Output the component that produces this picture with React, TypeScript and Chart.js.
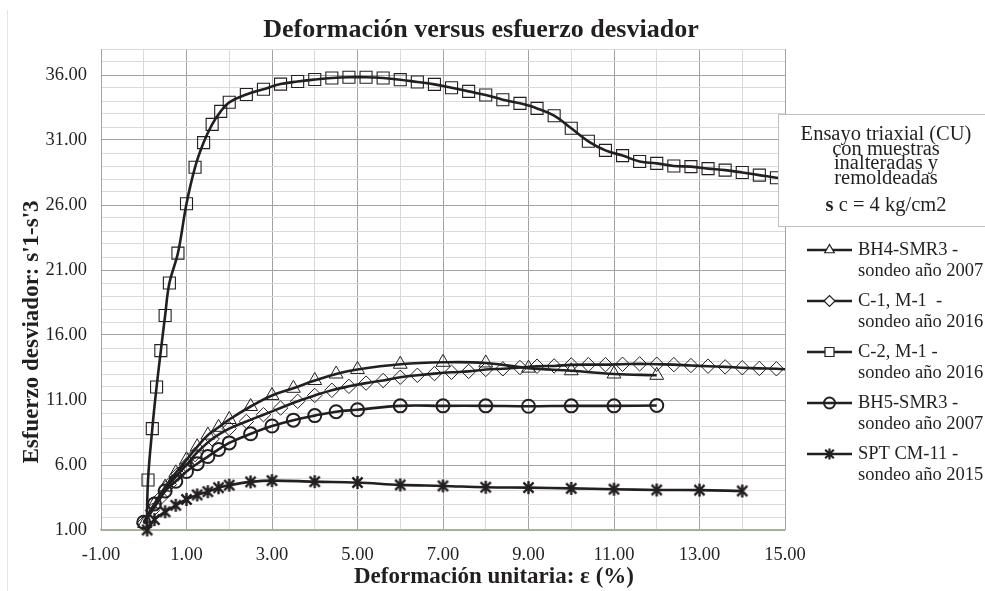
import React, { useEffect, useRef } from 'react';
import { Chart, registerables } from 'chart.js';

Chart.register(...registerables);

// ---------- data ----------
const chartTitle = 'Deformación versus esfuerzo desviador';
const xAxisTitle = 'Deformación unitaria: ε (%)';
const yAxisTitle = "Esfuerzo desviador: s'1-s'3";
const boxLines = ['Ensayo triaxial (CU)', 'con muestras', 'inalteradas y', 'remoldeadas'];
const boxSigma = 's';
const boxLast = ' c = 4 kg/cm2';

const xMin = -1;
const xMax = 15;
const yMin = 1;
const yMax = 38;

const seriesNames = [
  ['BH4-SMR3 -', 'sondeo año 2007'],
  ['C-1, M-1  -', 'sondeo año 2016'],
  ['C-2, M-1 -', 'sondeo año 2016'],
  ['BH5-SMR3 -', 'sondeo año 2007'],
  ['SPT CM-11 -', 'sondeo año 2015'],
];

const bh4X = [0.02, 0.25, 0.5, 0.75, 1.0, 1.25, 1.5, 1.75, 2.0, 2.5, 3.0, 3.5, 4.0, 4.5, 5.0, 6.0, 7.0, 8.0, 9.0, 10.0, 11.0, 12.0];
const bh4Y = [1.5, 3.0, 4.3, 5.4, 6.4, 7.4, 8.3, 8.9, 9.5, 10.5, 11.35, 11.9, 12.5, 13.0, 13.35, 13.75, 13.9, 13.85, 13.45, 13.25, 13.0, 12.9];

const c1X = [0.0, 0.2, 0.4, 0.6, 0.8, 1.0, 1.2, 1.6, 2.0, 2.4, 2.8, 3.2, 3.6, 4.0, 4.4, 4.8, 5.2, 5.6, 6.0, 6.4, 6.8, 7.2, 7.6, 8.0, 8.4, 8.8, 9.2, 9.6, 10.0, 10.4, 10.8, 11.2, 11.6, 12.0, 12.4, 12.8, 13.2, 13.6, 14.0, 14.4, 14.8, 15.2];
const c1Y = [1.5, 2.5, 3.5, 4.5, 5.3, 6.0, 6.8, 8.0, 8.8, 9.35, 9.87, 10.38, 10.9, 11.35, 11.75, 12.05, 12.3, 12.5, 12.75, 12.9, 13.03, 13.13, 13.2, 13.35, 13.4, 13.5, 13.6, 13.62, 13.7, 13.72, 13.72, 13.75, 13.78, 13.75, 13.72, 13.65, 13.6, 13.55, 13.48, 13.43, 13.4, 13.33];

const c2X = [0.07, 0.1, 0.2, 0.3, 0.4, 0.5, 0.6, 0.8, 1.0, 1.2, 1.4, 1.6, 1.8, 2.0, 2.4, 2.8, 3.2, 3.6, 4.0, 4.4, 4.8, 5.2, 5.6, 6.0, 6.4, 6.8, 7.2, 7.6, 8.0, 8.4, 8.8, 9.2, 9.6, 10.0, 10.4, 10.8, 11.2, 11.6, 12.0, 12.4, 12.8, 13.2, 13.6, 14.0, 14.4, 14.8, 15.2];
const c2Y = [1.0, 4.85, 8.8, 12.0, 14.8, 17.5, 20.0, 22.3, 26.1, 28.9, 30.8, 32.2, 33.2, 33.9, 34.5, 34.9, 35.3, 35.5, 35.65, 35.77, 35.83, 35.83, 35.77, 35.64, 35.46, 35.28, 35.02, 34.74, 34.46, 34.1, 33.82, 33.43, 32.87, 31.9, 30.9, 30.2, 29.8, 29.35, 29.2, 29.0, 28.95, 28.8, 28.68, 28.5, 28.3, 28.1, 27.95];

const bh5X = [0.0, 0.25, 0.5, 0.75, 1.0, 1.25, 1.5, 1.75, 2.0, 2.5, 3.0, 3.5, 4.0, 4.5, 5.0, 6.0, 7.0, 8.0, 9.0, 10.0, 11.0, 12.0];
const bh5Y = [1.6, 3.0, 4.0, 4.75, 5.5, 6.1, 6.65, 7.2, 7.7, 8.4, 9.0, 9.45, 9.8, 10.1, 10.25, 10.55, 10.55, 10.55, 10.52, 10.55, 10.55, 10.58];

const sptX = [0.08, 0.25, 0.5, 0.75, 1.0, 1.25, 1.5, 1.75, 2.0, 2.5, 3.0, 4.0, 5.0, 6.0, 7.0, 8.0, 9.0, 10.0, 11.0, 12.0, 13.0, 14.0];
const sptY = [1.0, 1.8, 2.4, 2.9, 3.35, 3.7, 3.95, 4.25, 4.45, 4.7, 4.8, 4.72, 4.65, 4.47, 4.39, 4.29, 4.26, 4.2, 4.14, 4.08, 4.07, 4.0];

// ---------- style ----------
const FONT = "'Liberation Serif', 'Times New Roman', serif";
const TEXT = '#231f20';
const LINE = '#231f20';
const MAJOR = '#a3a3a3';
const MINOR = '#dadada';
const GREEN = '#92d050';

const toPts = (xs: number[], ys: number[]) => xs.map((x, i) => ({ x, y: ys[i] }));

function makeStar(size: number, lw: number) {
  const c = document.createElement('canvas');
  c.width = size;
  c.height = size;
  const g = c.getContext('2d')!;
  g.strokeStyle = LINE;
  g.lineWidth = lw;
  const m = size / 2;
  const r = size / 2 - 1;
  const d = r * 0.78;
  g.beginPath();
  g.moveTo(m, m - r);
  g.lineTo(m, m + r);
  g.moveTo(m - d, m - d);
  g.lineTo(m + d, m + d);
  g.moveTo(m + d, m - d);
  g.lineTo(m - d, m + d);
  g.stroke();
  return c;
}

function drawMarker(ctx: CanvasRenderingContext2D, style: string, x: number, y: number, r: number) {
  ctx.save();
  ctx.strokeStyle = LINE;
  ctx.fillStyle = '#ffffff';
  ctx.lineWidth = 1.2;
  ctx.beginPath();
  if (style === 'triangle') {
    ctx.moveTo(x, y - r);
    ctx.lineTo(x + r * 0.866, y + r / 2);
    ctx.lineTo(x - r * 0.866, y + r / 2);
    ctx.closePath();
    ctx.fill();
    ctx.stroke();
  } else if (style === 'diamond') {
    ctx.moveTo(x - r, y);
    ctx.lineTo(x, y - r);
    ctx.lineTo(x + r, y);
    ctx.lineTo(x, y + r);
    ctx.closePath();
    ctx.fill();
    ctx.stroke();
  } else if (style === 'square') {
    ctx.rect(x - r, y - r, 2 * r, 2 * r);
    ctx.fill();
    ctx.stroke();
  } else if (style === 'circle') {
    ctx.lineWidth = 2;
    ctx.arc(x, y, r, 0, Math.PI * 2);
    ctx.stroke();
  } else if (style === 'star') {
    ctx.lineWidth = 2.2;
    const d = r * 0.78;
    ctx.moveTo(x, y - r);
    ctx.lineTo(x, y + r);
    ctx.moveTo(x - d, y - d);
    ctx.lineTo(x + d, y + d);
    ctx.moveTo(x + d, y - d);
    ctx.lineTo(x - d, y + d);
    ctx.stroke();
  }
  ctx.restore();
}

const legendStyles = ['triangle', 'diamond', 'square', 'circle', 'star'];

const overlayPlugin = {
  id: 'overlay',
  afterDraw(chart: any) {
    const ctx: CanvasRenderingContext2D = chart.ctx;
    ctx.save();
    // faint frame line at the left
    ctx.strokeStyle = '#dce6f2';
    ctx.lineWidth = 1;
    ctx.beginPath();
    ctx.moveTo(7.5, 10);
    ctx.lineTo(7.5, 591);
    ctx.stroke();

    ctx.fillStyle = TEXT;
    ctx.textAlign = 'center';
    ctx.textBaseline = 'middle';
    // title
    ctx.font = `bold 26px ${FONT}`;
    ctx.fillText(chartTitle, 481, 30);
    // axis titles
    ctx.font = `bold 23px ${FONT}`;
    ctx.fillText(xAxisTitle, 494, 577);
    ctx.save();
    ctx.translate(32, 332);
    ctx.rotate(-Math.PI / 2);
    ctx.fillText(yAxisTitle, 0, 0);
    ctx.restore();

    // text box
    ctx.fillStyle = '#ffffff';
    ctx.strokeStyle = '#bfbfbf';
    ctx.lineWidth = 1;
    ctx.fillRect(778, 114, 215, 113);
    ctx.strokeRect(778.5, 114.5, 215, 112);
    ctx.fillStyle = TEXT;
    ctx.font = `20.5px ${FONT}`;
    const boxYs = [135, 150, 164, 179];
    boxLines.forEach((t, i) => ctx.fillText(t, 886, boxYs[i]));
    ctx.font = `bold 20.5px ${FONT}`;
    const wS = ctx.measureText(boxSigma).width;
    ctx.font = `20.5px ${FONT}`;
    const wR = ctx.measureText(boxLast).width;
    const startX = 886 - (wS + wR) / 2;
    ctx.textAlign = 'left';
    ctx.font = `bold 20.5px ${FONT}`;
    ctx.fillText(boxSigma, startX, 206);
    ctx.font = `20.5px ${FONT}`;
    ctx.fillText(boxLast, startX + wS, 206);

    // legend
    ctx.font = `18.5px ${FONT}`;
    ctx.textAlign = 'left';
    seriesNames.forEach((lines, i) => {
      const y = 250 + 51 * i;
      ctx.strokeStyle = LINE;
      ctx.lineWidth = 2.5;
      ctx.beginPath();
      ctx.moveTo(807, y);
      ctx.lineTo(852, y);
      ctx.stroke();
      drawMarker(ctx, legendStyles[i], 829.5, y, legendStyles[i] === 'square' ? 4.5 : 5.5);
      ctx.fillStyle = TEXT;
      ctx.fillText(lines[0], 858, y);
      ctx.fillText(lines[1], 858, y + 21);
    });
    ctx.restore();
  },
};

export default function App() {
  const ref = useRef<HTMLCanvasElement>(null);

  useEffect(() => {
    const canvas = ref.current;
    if (!canvas) return;
    const star = makeStar(15, 2.4);
    const edgeR = (r: number) => (c: any) => (c.raw && c.raw.x > xMax ? 0 : r);

    const common = {
      showLine: true,
      borderColor: LINE,
      borderWidth: 2.6,
      tension: 0.4,
      backgroundColor: 'rgba(0,0,0,0)',
      pointBorderColor: LINE,
      pointBackgroundColor: 'rgba(0,0,0,0)',
      clip: { left: 0, right: 0, top: 0, bottom: 12 },
    };

    const chart = new Chart(canvas, {
      type: 'scatter',
      data: {
        datasets: [
          {
            ...common,
            label: seriesNames[0].join(' '),
            data: toPts(bh4X, bh4Y),
            pointStyle: 'triangle',
            pointRadius: 8,
            pointBorderWidth: 1,
          },
          {
            ...common,
            label: seriesNames[1].join(' '),
            data: toPts(c1X, c1Y),
            pointStyle: 'rectRot',
            pointRadius: edgeR(7.2),
            pointBorderWidth: 1,
          },
          {
            ...common,
            label: seriesNames[2].join(' '),
            data: toPts(c2X, c2Y),
            pointStyle: 'rect',
            pointRadius: (c: any) => (c.dataIndex === 0 || (c.raw && c.raw.x > xMax) ? 0 : 8.5),
            pointBorderWidth: 1.1,
          },
          {
            ...common,
            label: seriesNames[3].join(' '),
            data: toPts(bh5X, bh5Y),
            pointStyle: 'circle',
            pointRadius: 6.5,
            pointBorderWidth: 2,
          },
          {
            ...common,
            label: seriesNames[4].join(' '),
            data: toPts(sptX, sptY),
            pointStyle: star,
            pointRadius: 7,
            pointBorderWidth: 1,
          },
        ],
      },
      options: {
        animation: false,
        responsive: false,
        devicePixelRatio: 1,
        events: [],
        layout: { padding: { left: 0, right: 200, top: 49, bottom: 0 } },
        plugins: {
          legend: { display: false },
          title: { display: false },
          tooltip: { enabled: false },
        },
        scales: {
          x: {
            type: 'linear',
            min: xMin,
            max: xMax,
            afterFit: (s: any) => {
              s.height = 61;
            },
            border: { color: GREEN, width: 1.2 },
            grid: {
              drawTicks: false,
              color: (c: any) => (c.tick && Math.abs((c.tick.value + 1) % 2) < 1e-9 ? MAJOR : MINOR),
              lineWidth: 1,
            },
            ticks: {
              stepSize: 1,
              autoSkip: false,
              maxRotation: 0,
              padding: 14,
              color: TEXT,
              font: { family: FONT, size: 18.5 },
              callback: (v: any) => (Math.abs((Number(v) + 1) % 2) < 1e-9 ? Number(v).toFixed(2) : ''),
            },
          },
          y: {
            type: 'linear',
            min: yMin,
            max: yMax,
            afterFit: (s: any) => {
              s.width = 101;
            },
            border: { color: MAJOR, width: 1 },
            grid: {
              drawTicks: false,
              color: (c: any) => (c.tick && Math.abs((c.tick.value - 1) % 5) < 1e-9 ? MAJOR : MINOR),
              lineWidth: 1,
            },
            ticks: {
              stepSize: 1,
              autoSkip: false,
              padding: 14,
              color: TEXT,
              font: { family: FONT, size: 18.5 },
              callback: (v: any) => (Math.abs((Number(v) - 1) % 5) < 1e-9 ? Number(v).toFixed(2) : ''),
            },
          },
        },
      },
      plugins: [overlayPlugin],
    } as any);

    return () => chart.destroy();
  }, []);

  return (
    <div style={{ position: 'absolute', left: 0, top: 0, width: 985, height: 591, background: '#ffffff' }}>
      <canvas ref={ref} width={985} height={591} style={{ display: 'block', width: 985, height: 591 }} />
    </div>
  );
}
